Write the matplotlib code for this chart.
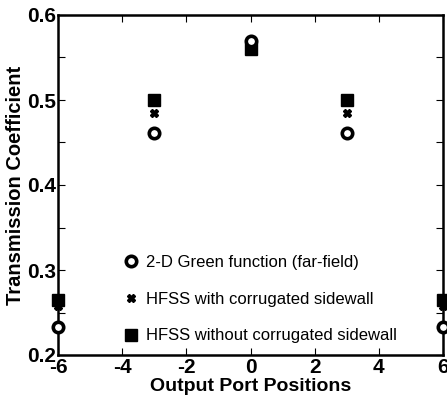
import matplotlib.pyplot as plt
from matplotlib.ticker import MultipleLocator

# datos
positions = [-6, -3, 0, 3, 6]
green_fn = [0.233, 0.461, 0.570, 0.461, 0.233]
hfss_corr = [0.258, 0.485, 0.565, 0.485, 0.258]
hfss_flat = [0.265, 0.500, 0.560, 0.500, 0.265]

plt.rcParams['font.family'] = ['Liberation Sans', 'DejaVu Sans']
plt.rcParams['axes.unicode_minus'] = False

fig = plt.figure(figsize=(4.47, 4.04), dpi=100)
ax = fig.add_axes([58 / 447, 1 - 355 / 404, 385 / 447, 340 / 404])

ax.plot(positions, hfss_flat, 's', color='black', markersize=8, clip_on=False,
        label='HFSS without corrugated sidewall', zorder=3)
ax.plot(positions, hfss_corr, 'X', color='black', markersize=6, clip_on=False,
        label='HFSS with corrugated sidewall', zorder=4)
ax.plot(positions, green_fn, 'o', markerfacecolor='white', markeredgecolor='black',
        markeredgewidth=2.6, markersize=7.5, clip_on=False,
        label='2-D Green function (far-field)', zorder=5)

ax.set_xlim(-6, 6)
ax.set_ylim(0.2, 0.6)
ax.xaxis.set_major_locator(MultipleLocator(2))
ax.yaxis.set_major_locator(MultipleLocator(0.1))
ax.yaxis.set_minor_locator(MultipleLocator(0.05))
ax.set_yticklabels(['%g' % v for v in ax.get_yticks()])
ax.tick_params(direction='in', top=True, right=True, which='both', length=5, width=0.8)
ax.tick_params(labelsize=15, pad=1)
ax.tick_params(axis='x', pad=2)
for lab in ax.get_xticklabels() + ax.get_yticklabels():
    lab.set_fontweight('bold')
for s in ax.spines.values():
    s.set_linewidth(1.8)

ax.set_xlabel('Output Port Positions', fontsize=14, fontweight='bold', labelpad=1)
ax.set_ylabel('Transmission Coefficient', fontsize=14.5, fontweight='bold', labelpad=2)

handles, labels = ax.get_legend_handles_labels()
ax.legend(handles[::-1], labels[::-1], loc='lower left', bbox_to_anchor=(0.13, -0.01),
          frameon=False, fontsize=12, labelspacing=1.3, handletextpad=0.4,
          handlelength=1.0, markerscale=1.0)

fig.savefig('out.png', dpi=100)
